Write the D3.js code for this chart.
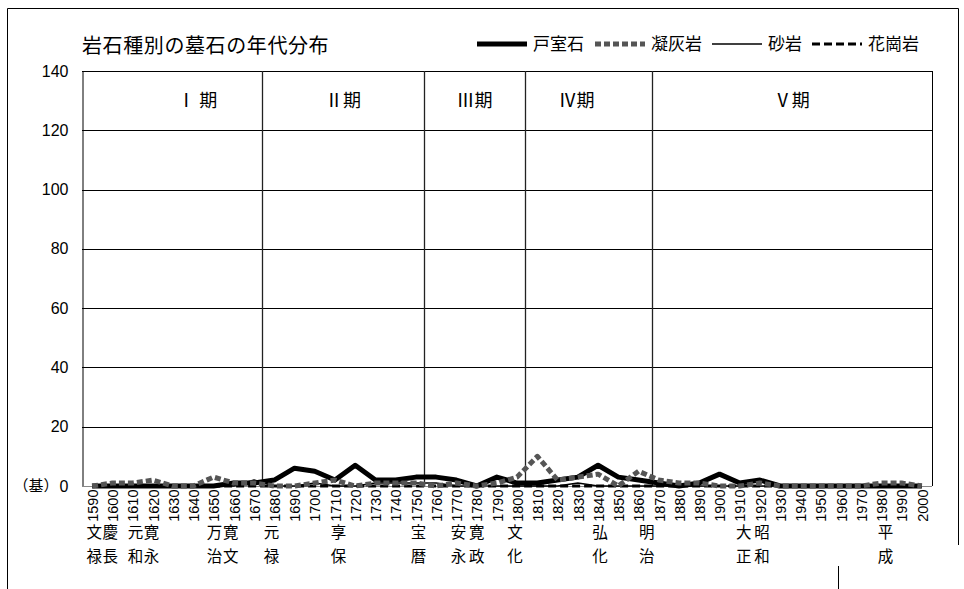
<!DOCTYPE html>
<html><head><meta charset="utf-8">
<script src="https://cdn.jsdelivr.net/npm/d3@7"></script>
<style>
html,body{margin:0;padding:0;background:#fff;}
svg{display:block;}
</style></head>
<body>
<svg id="chart" width="964" height="589"></svg>
<script>
// ---------- data ----------
const years = [1590,1600,1610,1620,1630,1640,1650,1660,1670,1680,1690,1700,1710,1720,1730,1740,1750,1760,1770,1780,1790,1800,1810,1820,1830,1840,1850,1860,1870,1880,1890,1900,1910,1920,1930,1940,1950,1960,1970,1980,1990,2000];
const tomuro  = [0,0,0,0,0,0,0,1,1,2,6,5,2,7,2,2,3,3,2,0,3,1,1,2,3,7,3,2,1,0,1,4,1,2,0,0,0,0,0,0,0,0];
const gyokai  = [0,1,1,2,0,0,3,1,1,0,0,1,2,0,1,1,1,0,1,0,1,3,10,2,3,4,0,5,2,1,1,0,0,1,0,0,0,0,0,1,1,0];
const sagan   = [0,0,0,0,0,0,0,0,2,0,0,1,0,0,1,1,1,1,0,0,0,0,0,0,1,0,0,0,0,0,0,0,0,0,0,0,0,0,0,0,0,0];
const kakou   = [0,0,0,0,0,0,0,0,0,0,0,0,0,0,0,0,0,0,0,0,0,0,0,0,0,0,0,0,0,0,0,0,0,0,0,0,0,0,0,0,0,0];
const seriesNames = ["戸室石","凝灰岩","砂岩","花崗岩"];
const yTicks = [0,20,40,60,80,100,120,140];
const periodNames = ["Ⅰ 期","Ⅱ期","Ⅲ期","Ⅳ期","Ⅴ期"];
const periodBounds = [1585,1674,1754,1804,1866.5,2005];
const eraNames = ["文禄","慶長","元和","寛永","万治","寛文","元禄","享保","宝暦","安永","寛政","文化","弘化","明治","大正","昭和","平成"];
const eraYears = [1591,1599,1611.4,1619.3,1650.5,1658.5,1678.6,1711.7,1751.3,1771,1780,1799,1841,1864,1912,1921,1982];
const title = "岩石種別の墓石の年代分布";

// ---------- layout ----------
const svg = d3.select("#chart");
const L = 82, R = 932, T = 71, B = 486;
const x = d3.scaleLinear().domain([1585, 2005]).range([L, R]);
const y = d3.scaleLinear().domain([0, 140]).range([B, T]);
const jp = "'Noto Sans CJK JP', 'Noto Sans', sans-serif";
const num = "'Liberation Sans', Arial, sans-serif";

// outer frame
svg.append("path").attr("d","M7.5,589 V8.5 H958.5 V545").attr("fill","none").attr("stroke","#000").attr("stroke-width",1);
svg.append("line").attr("x1",838.5).attr("x2",838.5).attr("y1",566).attr("y2",589).attr("stroke","#000");

// gridlines
svg.append("g").selectAll("line").data(yTicks.filter(d=>d>0)).join("line")
  .attr("x1",L).attr("x2",R).attr("y1",d=>Math.round(y(d))+0.5).attr("y2",d=>Math.round(y(d))+0.5)
  .attr("stroke","#000").attr("stroke-width",1);
// right border
svg.append("line").attr("x1",R+0.5).attr("x2",R+0.5).attr("y1",T).attr("y2",B).attr("stroke","#000");
// period dividers
svg.append("g").selectAll("line").data(periodBounds.slice(1,-1)).join("line")
  .attr("x1",d=>Math.round(x(d))+0.5).attr("x2",d=>Math.round(x(d))+0.5).attr("y1",T).attr("y2",B)
  .attr("stroke","#222").attr("stroke-width",1.3);

// y axis
const yAxis = d3.axisLeft(y).tickValues(yTicks).tickSize(0).tickPadding(14);
const ya = svg.append("g").attr("transform",`translate(${L+0.5},0)`).call(yAxis);
ya.select(".domain").attr("stroke","#000");
ya.selectAll("text").attr("font-family",num).attr("font-size",16).attr("fill","#000");
svg.append("text").attr("x",36).attr("y",y(0)).attr("dy","0.35em").attr("text-anchor","middle")
  .attr("font-family",jp).attr("font-size",15).text("（基）");

// x axis
const xAxis = d3.axisBottom(x).tickValues(years).tickSize(0).tickFormat(d=>d);
const xa = svg.append("g").attr("transform",`translate(0,${B+0.5})`).call(xAxis);
xa.select(".domain").attr("stroke","#888").attr("d",`M${L},0H${R}`);
xa.selectAll("text").attr("font-family",num).attr("font-size",14.5).attr("fill","#000")
  .attr("text-anchor","end").attr("transform","translate(0,3) rotate(-90)").attr("x",0).attr("y",0).attr("dy","0.36em");

// period labels
svg.append("g").selectAll("text").data(periodNames).join("text")
  .attr("x",(d,i)=> i===0 ? x(periodBounds[0]+ (periodBounds[1]-periodBounds[0])*0.64) : (i===3 ? x((periodBounds[3]+periodBounds[4])/2)-12 : x((periodBounds[i]+periodBounds[i+1])/2)))
  .attr("y",101).attr("dy","0.35em").attr("text-anchor","middle")
  .attr("font-family",jp).attr("font-size",18).text(d=>d);

// era labels (two stacked characters)
const eg = svg.append("g").attr("font-family",jp).attr("font-size",15.5).attr("text-anchor","middle");
eg.selectAll("text.r1").data(eraNames).join("text").attr("class","r1")
  .attr("x",(d,i)=>x(eraYears[i])).attr("y",533).attr("dy","0.35em").text(d=>d[0]);
eg.selectAll("text.r2").data(eraNames).join("text").attr("class","r2")
  .attr("x",(d,i)=>x(eraYears[i])).attr("y",557).attr("dy","0.35em").text(d=>d[1]);

// lines
const styles = [
  {stroke:"#000", w:5, dash:null},
  {stroke:"#555", w:5, dash:"6,3"},
  {stroke:"#000", w:1.5, dash:null},
  {stroke:"#000", w:3, dash:"8,4"}
];
const seriesData = [tomuro, gyokai, sagan, kakou];
const line = d3.line().x((d,i)=>x(years[i])).y(d=>y(d));
const lg = svg.append("g");
[3,2,0,1].forEach(k=>{
  lg.append("path").datum(seriesData[k]).attr("d",line).attr("fill","none")
    .attr("stroke",styles[k].stroke).attr("stroke-width",styles[k].w)
    .attr("stroke-dasharray",styles[k].dash).attr("stroke-linejoin","round");
});

// title
svg.append("text").attr("x",82).attr("y",46).attr("dy","0.35em").attr("font-family",jp).attr("font-size",20)
  .attr("letter-spacing",0.6).text(title);

// legend
const legX = [477,595,712,812];
const leg = svg.append("g");
seriesNames.forEach((n,k)=>{
  leg.append("line").attr("x1",legX[k]).attr("x2",legX[k]+50).attr("y1",44).attr("y2",44)
    .attr("stroke",styles[k].stroke).attr("stroke-width",styles[k].w).attr("stroke-dasharray",styles[k].dash);
  leg.append("text").attr("x",legX[k]+56).attr("y",44).attr("dy","0.35em").attr("font-family",jp)
    .attr("font-size",17).text(n);
});
</script>
</body></html>
